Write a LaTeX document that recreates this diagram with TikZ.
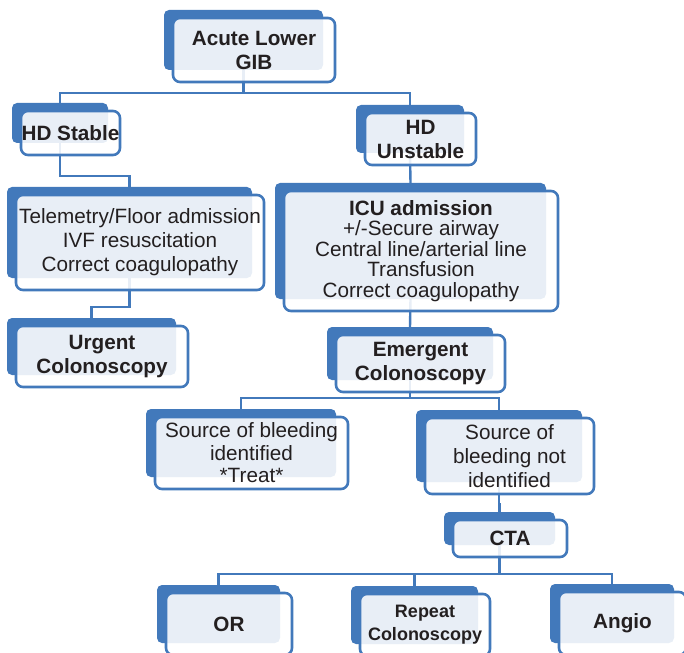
\documentclass[tikz,border=0pt]{standalone}
\usepackage{fontspec}
\setmainfont{Liberation Sans}
\usetikzlibrary{fit}
\definecolor{gibblue}{RGB}{66,121,187}
\definecolor{gibink}{RGB}{35,31,32}

\begin{document}
\begin{tikzpicture}[x=1pt, y=-1pt,
	backcard/.style={fill=gibblue, rounded corners=5pt, inner sep=0pt, outer sep=0pt},
	frontcard/.style={draw=gibblue, line width=2.6pt, rounded corners=7pt,
	                  fill=white, fill opacity=0.88, inner sep=0pt, outer sep=0pt,
	                  fit={([shift={(9,8)}]#1.north west) ([shift={(12,12)}]#1.south east)}},
	cardtext/.style={text=gibink, align=center, inner sep=0pt,
	                 font=\fontsize{20.7}{24}\selectfont},
	headtext/.style={cardtext, font=\fontsize{20.7}{24}\selectfont\bfseries},
	wire/.style={draw=gibblue, line width=2.4pt}]
	\useasboundingbox (0,0) rectangle (684,652);
	\clip (0,0) rectangle (684,652);

	\node[backcard, fit={(164,10) (323,70)}]   (gib)      {};
	\node[backcard, fit={(12,103) (108,143)}]  (stable)   {};
	\node[backcard, fit={(356,105) (464,153)}] (unstable) {};
	\node[backcard, fit={(7,187) (252,278)}]   (floor)    {};
	\node[backcard, fit={(275,183) (546,299)}] (icu)      {};
	\node[backcard, fit={(7,318) (176,375)}]   (urgent)   {};
	\node[backcard, fit={(327,327) (493,380)}] (emergent) {};
	\node[backcard, fit={(146,409) (336,477)}] (found)    {};
	\node[backcard, fit={(416,410) (582,482)}] (notfound) {};
	\node[backcard, fit={(444,512) (555,545)}] (cta)      {};
	\node[backcard, fit={(157,585) (280,643)}] (or)       {};
	\node[backcard, fit={(351,586) (478,644)}] (repeat)   {};
	\node[backcard, fit={(550,584) (674,643)}] (angio)    {};

	\foreach \k in {stable,unstable}
	  \draw[wire] (gib.south) -- ++(0,23) -| (\k.north);
	\draw[wire] (stable.south) -- ++(0,33) -| (floor.north);
	\draw[wire] (floor.south) -- ++(0,29) -| (urgent.north);
	\draw[wire] (unstable.south) -- (icu.north);
	\draw[wire] (icu.south) -- (emergent.north);
	\foreach \k in {found,notfound}
	  \draw[wire] (emergent.south) -- ++(0,18) -| (\k.north);
	\draw[wire] (notfound.south) -- ++(0,22) -| (cta.north);
	\foreach \k in {or,repeat,angio}
	  \draw[wire] (cta.south) -- ++(0,29) -| (\k.north);

	\foreach \k in {gib,stable,unstable,floor,icu,urgent,emergent,found,notfound,cta,or,repeat,angio}
	  \node[frontcard=\k] (\k f) {};

	\node[headtext] (gibtxt)      at (gibf)      {Acute Lower\\GIB};
	\node[headtext] (stabletxt)   at (stablef)   {HD Stable};
	\node[headtext] (unstabletxt) at (unstablef) {HD\\Unstable};
	\node[cardtext] (floortxt)    at (floorf)    {Telemetry/Floor admission\\IVF resuscitation\\Correct coagulopathy};
	\node[cardtext, font=\fontsize{20.7}{20.5}\selectfont]
	                (icutxt)      at (icuf)      {\textbf{ICU admission}\\+/-Secure airway\\Central line/arterial line\\Transfusion\\Correct coagulopathy};
	\node[headtext] (urgenttxt)   at (urgentf)   {Urgent\\Colonoscopy};
	\node[headtext] (emergenttxt) at (emergentf) {Emergent\\Colonoscopy};
	\node[cardtext, font=\fontsize{20.7}{22.5}\selectfont]
	                (foundtxt)    at (foundf)    {Source of bleeding\\identified\\{*Treat*}};
	\node[cardtext] (notfoundtxt) at (notfoundf) {Source of\\bleeding not\\identified};
	\node[headtext] (ctatxt)      at (ctaf)      {CTA};
	\node[headtext] (ortxt)       at (orf)       {OR};
	\node[headtext, font=\fontsize{18}{23}\selectfont\bfseries]
	                (repeattxt)   at (repeatf)   {Repeat\\Colonoscopy};
	\node[headtext] (angiotxt)    at (angiof)    {Angio};
\end{tikzpicture}
\end{document}
